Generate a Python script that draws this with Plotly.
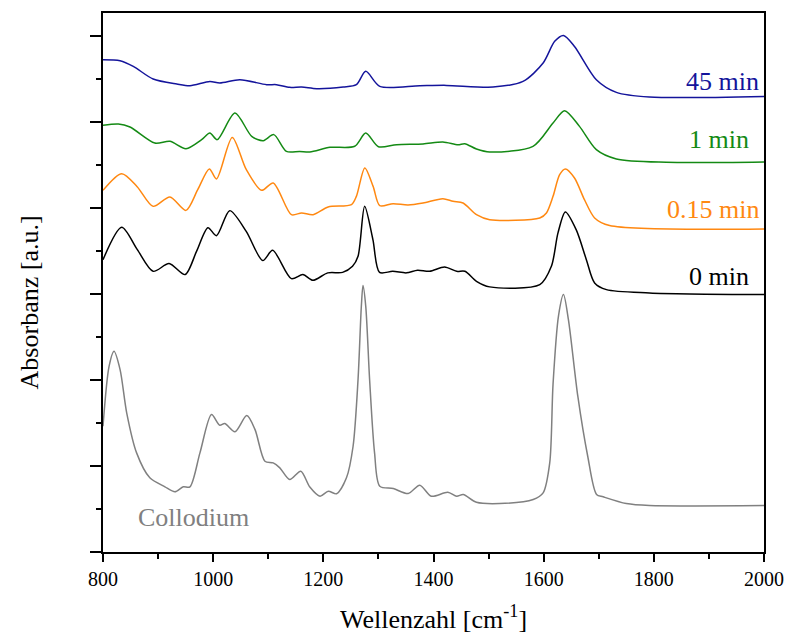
import plotly.graph_objects as go

# ---- data (wavenumber in cm^-1, absorbance in offset arbitrary units) ----
wn_coll = [800, 811, 820, 831, 843, 861, 885, 912.5, 930.6, 945.7, 957.8, 976, 997, 1012, 1021,
           1039.5, 1061, 1076, 1094, 1109, 1121, 1139, 1159, 1175.5, 1194, 1209, 1224, 1242, 1254,
           1263, 1269, 1272, 1277, 1284, 1293, 1302.5, 1327, 1354, 1375, 1396, 1426, 1442, 1454,
           1478, 1520, 1581, 1599, 1611, 1617, 1627, 1636, 1645, 1662, 1680, 1696, 1708, 1750,
           1792, 2000]
abs_coll = [1.463, 2.160, 2.335, 2.122, 1.619, 1.153, 0.863, 0.758, 0.700, 0.758, 0.758, 1.153,
            1.599, 1.474, 1.494, 1.398, 1.587, 1.424, 1.056, 1.037, 0.979, 0.843, 0.940, 0.756,
            0.649, 0.707, 0.677, 0.863, 1.230, 2.006, 2.858, 3.099, 2.858, 2.006, 1.153, 0.765,
            0.738, 0.680, 0.777, 0.649, 0.695, 0.649, 0.669, 0.579, 0.564, 0.610, 0.688, 1.037,
            1.95, 2.75, 2.994, 2.70, 1.812, 1.114, 0.669, 0.642, 0.564, 0.541, 0.541]

wn_0 = [800, 834, 862, 891, 920, 949, 970, 990.5, 1006, 1030, 1060, 1090, 1108, 1142, 1163, 1181,
        1208, 1235, 1253, 1263, 1275, 1290, 1302, 1326, 1351, 1371, 1393, 1420, 1442, 1457, 1478,
        1502, 1593, 1614, 1626, 1639.4, 1659, 1677.5, 1692.5, 1714, 1792, 2000]
abs_0 = [3.40, 3.777, 3.52, 3.265, 3.355, 3.227, 3.50, 3.773, 3.68, 3.971, 3.73, 3.39, 3.509,
         3.18, 3.227, 3.16, 3.247, 3.253, 3.323, 3.44, 4.021, 3.634, 3.253, 3.265, 3.247, 3.277,
         3.265, 3.316, 3.265, 3.265, 3.149, 3.084, 3.11, 3.323, 3.712, 3.956, 3.75, 3.401, 3.130,
         3.052, 3.014, 2.994]

wn_015 = [800, 834, 862, 891, 921.5, 950.6, 972, 993, 1006, 1034.6, 1060, 1088, 1109, 1142,
          1160.5, 1181.5, 1208.7, 1251, 1260, 1275.3, 1290.4, 1302.5, 1326.6, 1353.8, 1381, 1417,
          1435.5, 1453.6, 1478, 1502, 1593, 1605, 1617, 1629, 1639.4, 1656, 1674, 1692.5,
          1719.7, 2000]
abs_015 = [4.207, 4.401, 4.25, 4.021, 4.130, 3.974, 4.215, 4.456, 4.340, 4.823, 4.45, 4.207,
           4.293, 3.924, 3.944, 3.924, 4.014, 4.041, 4.137, 4.467, 4.253, 4.029, 4.052, 4.037,
           4.060, 4.110, 4.079, 4.060, 3.924, 3.866, 3.886, 3.944, 4.137, 4.390, 4.456, 4.351,
           4.099, 3.886, 3.797, 3.758]

wn_1 = [800, 828, 849, 894, 921.5, 950.6, 979, 994, 1007.4, 1039.5, 1070, 1091, 1110, 1133, 1157,
        1175.5, 1212, 1257, 1277, 1300, 1333, 1381, 1417, 1444.6, 1456.7, 1478, 1502, 1580.6,
        1617, 1638, 1665, 1695.6, 1732, 1822.6, 2000]
abs_1 = [4.963, 4.979, 4.944, 4.758, 4.777, 4.692, 4.797, 4.874, 4.797, 5.107, 4.835, 4.785,
         4.855, 4.660, 4.660, 4.653, 4.707, 4.72, 4.874, 4.715, 4.738, 4.747, 4.770, 4.738,
         4.750, 4.688, 4.653, 4.719, 4.991, 5.134, 4.951, 4.680, 4.572, 4.533, 4.537]

wn_45 = [800, 831, 855, 891, 934, 958, 994, 1012, 1048.5, 1097, 1115, 1139, 1160.5, 1188, 1236,
         1260, 1277, 1302.5, 1375, 1423.5, 1508, 1562.5, 1599, 1620, 1636, 1656, 1695.6, 1732,
         1792, 2000]
abs_45 = [5.727, 5.715, 5.649, 5.502, 5.444, 5.424, 5.474, 5.456, 5.494, 5.436, 5.436, 5.405,
          5.409, 5.390, 5.409, 5.436, 5.591, 5.416, 5.424, 5.428, 5.409, 5.474, 5.688, 5.940,
          6.009, 5.881, 5.494, 5.347, 5.293, 5.300]

series = [
    ("Collodium", wn_coll, abs_coll, "#808080"),
    ("0 min", wn_0, abs_0, "#000000"),
    ("0.15 min", wn_015, abs_015, "#ff8811"),
    ("1 min", wn_1, abs_1, "#148a14"),
    ("45 min", wn_45, abs_45, "#14149b"),
]

# label placement: (text, x, y, anchor, color)
labels = [
    ("45 min", 1995, 5.47, "right", "#14149b"),
    ("1 min", 1977, 4.80, "right", "#148a14"),
    ("0.15 min", 1995, 3.98, "right", "#ff8811"),
    ("0 min", 1977, 3.20, "right", "#000000"),
    ("Collodium", 965, 0.40, "center", "#808080"),
]

FONT = "Liberation Serif"

fig = go.Figure()
for name, x, y, col in series:
    fig.add_trace(go.Scatter(x=x, y=y, mode="lines", name=name,
                             line=dict(color=col, width=1.5, shape="spline", smoothing=0.8),
                             showlegend=False, hoverinfo="skip"))

for text, x, y, anc, col in labels:
    fig.add_annotation(x=x, y=y, xref="x", yref="y", text=text, showarrow=False,
                       xanchor=anc, yanchor="middle",
                       font=dict(family=FONT, size=26, color=col))

fig.add_annotation(x=-0.112, y=0.463, xref="paper", yref="paper", text="Absorbanz [a.u.]",
                   textangle=-90, showarrow=False, xanchor="center", yanchor="middle",
                   font=dict(family=FONT, size=26, color="black"))
fig.add_annotation(x=0.5, y=-0.121, xref="paper", yref="paper",
                   text="Wellenzahl [cm<sup>-1</sup>]",
                   showarrow=False, xanchor="center", yanchor="middle",
                   font=dict(family=FONT, size=26, color="black"))

fig.update_layout(
    width=785, height=637,
    margin=dict(l=103, r=21, t=13, b=85, autoexpand=False),
    paper_bgcolor="white", plot_bgcolor="white",
    font=dict(family=FONT, color="black"),
    xaxis=dict(range=[800, 2000], tick0=800, dtick=200, ticks="outside", ticklen=8, tickwidth=2,
               tickcolor="black", showline=True, linecolor="black", linewidth=2, mirror=True,
               showgrid=False, zeroline=False, tickfont=dict(family=FONT, size=20),
               automargin=False,
               minor=dict(dtick=100, ticks="outside", ticklen=5, tickwidth=2, tickcolor="black")),
    yaxis=dict(range=[0, 6.27], tick0=0, dtick=1, ticks="outside", ticklen=11, tickwidth=2,
               tickcolor="black", showline=True, linecolor="black", linewidth=2, mirror=True,
               showgrid=False, zeroline=False, showticklabels=False, automargin=False,
               minor=dict(dtick=0.5, ticks="outside", ticklen=5, tickwidth=2, tickcolor="black")),
)

fig.write_html("out.html")
